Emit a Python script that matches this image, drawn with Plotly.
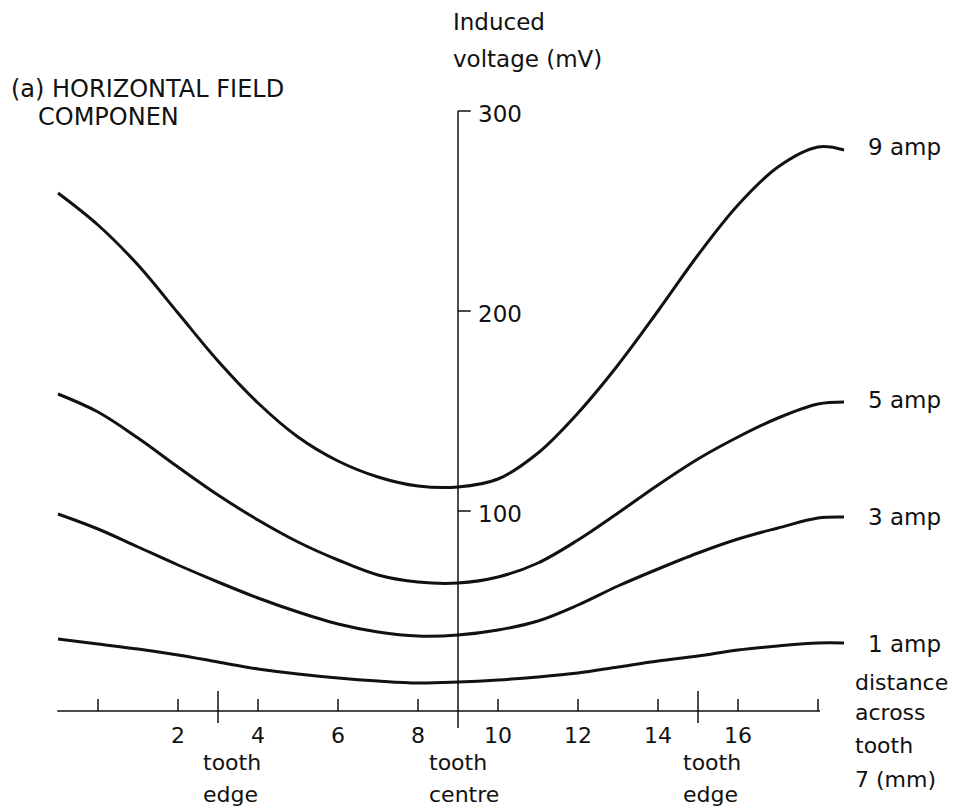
import plotly.graph_objects as go

# Distance across tooth 7 (mm) at which the induced voltage was sampled
distance_mm = [-1, 0, 1, 2, 3, 4, 5, 6, 7, 8, 9, 10, 11, 12, 13, 14, 15, 16, 17, 18, 18.65]

# Induced voltage (mV) for each excitation current
v_9amp = [259, 243, 223, 199, 175, 154, 137, 125, 117, 112.5, 112, 116, 129, 149, 173, 200, 228, 253, 272, 282, 280.5]
v_5amp = [158.5, 149.5, 136.5, 122, 108, 95.5, 84.5, 75.5, 68, 64.5, 64, 67, 74, 85.5, 99, 113, 126, 137, 146.5, 153.5, 154.5]
v_3amp = [98.5, 91, 82, 73, 64.5, 56.5, 49.5, 43.5, 39.5, 37.5, 38, 40.5, 45, 53, 62.5, 71, 79, 86, 91.5, 96.5, 97]
v_1amp = [36, 33.5, 31, 28, 24.5, 21, 18.5, 16.5, 15, 14, 14.5, 15.5, 17, 19, 22, 25, 27.5, 30.5, 32.5, 34, 34]

series_names = ["9 amp", "5 amp", "3 amp", "1 amp"]
series_values = [v_9amp, v_5amp, v_3amp, v_1amp]

# Axis ticks
x_ticks = [0, 2, 4, 6, 8, 10, 12, 14, 16, 18]
x_tick_labels = ["2", "4", "6", "8", "10", "12", "14", "16"]
x_tick_label_pos = [2, 4, 6, 8, 10, 12, 14, 16]
y_ticks = [100, 200, 300]
y_tick_labels = ["100", "200", "300"]

# Tooth landmarks on the distance axis
tooth_marks = [3, 9, 15]
tooth_words = [("tooth", "edge"), ("tooth", "centre"), ("tooth", "edge")]

FONT = "DejaVu Sans"
INK = "#111111"
X_MIN, X_MAX = -1.02, 18.05
Y_AXIS_X = 9

fig = go.Figure()

for name, vals in zip(series_names, series_values):
    fig.add_trace(go.Scatter(
        x=distance_mm, y=vals, mode="lines", name=name,
        line=dict(color=INK, width=3, shape="spline", smoothing=1.0),
        hoverinfo="x+y+name",
    ))

shapes = []
# horizontal distance axis
shapes.append(dict(type="line", xref="x", yref="y", x0=X_MIN, x1=X_MAX, y0=0, y1=0,
                   line=dict(color=INK, width=1.5)))
# small upward ticks
for t in x_ticks:
    shapes.append(dict(type="line", xref="x", yref="y", x0=t, x1=t, y0=0, y1=6,
                       line=dict(color=INK, width=1.5)))
# tooth edge marks crossing the axis
for t in (tooth_marks[0], tooth_marks[2]):
    shapes.append(dict(type="line", xref="x", yref="y", x0=t, x1=t, y0=-6, y1=10,
                       line=dict(color=INK, width=1.5)))
# vertical voltage axis at the tooth centre
shapes.append(dict(type="line", xref="x", yref="y", x0=Y_AXIS_X, x1=Y_AXIS_X, y0=-8.5, y1=300,
                   line=dict(color=INK, width=1.5)))
for t in y_ticks:
    shapes.append(dict(type="line", xref="x", yref="y", x0=Y_AXIS_X, x1=Y_AXIS_X + 0.32, y0=t, y1=t,
                       line=dict(color=INK, width=1.5)))

ann = []
def label(x, y, text, xanchor="left", size=23, xref="x", yref="y", pad=1):
    ann.append(dict(x=x, y=y, xref=xref, yref=yref, text=text, showarrow=False,
                    xanchor=xanchor, yanchor="middle", borderpad=pad,
                    font=dict(family=FONT, size=size, color=INK)))

for pos, txt in zip(x_tick_label_pos, x_tick_labels):
    label(pos, -12, txt, xanchor="center", size=22, pad=0)

for val, txt in zip(y_ticks, y_tick_labels):
    label(Y_AXIS_X + 0.45, val - 1.5, txt)

offsets = [-0.4, -0.75, -0.4]
for mark, (w1, w2), off in zip(tooth_marks, tooth_words, offsets):
    label(mark + off, -25.5, w1, size=22, pad=0)
    label(mark + off, -41.5, w2, size=22, pad=0)

# curve labels at the right-hand ends
label(19.2, 282, "9 amp")
label(19.2, 155.5, "5 amp")
label(19.2, 97, "3 amp")
label(19.2, 33.5, "1 amp")

# distance axis caption
for yv, txt in zip([14.5, -0.5, -17, -34], ["distance", "across", "tooth", "7 (mm)"]):
    label(18.9, yv, txt, size=22, pad=0)

# voltage axis caption
label(8.82, 344.5, "Induced")
label(8.82, 326, "voltage (mV)")

# panel title
label(9 / 964, 1 - 89 / 810, "(a) HORIZONTAL FIELD", size=24, xref="paper", yref="paper")
label(36 / 964, 1 - 117 / 810, "COMPONEN", size=24, xref="paper", yref="paper")

fig.update_layout(
    width=964, height=810,
    margin=dict(l=0, r=0, t=0, b=0),
    paper_bgcolor="white", plot_bgcolor="white",
    showlegend=False,
    shapes=shapes, annotations=ann,
    xaxis=dict(range=[-2.45, 21.65], visible=False, fixedrange=True),
    yaxis=dict(range=[-49.5, 355.5], visible=False, fixedrange=True),
)

fig.write_html("out.html")
